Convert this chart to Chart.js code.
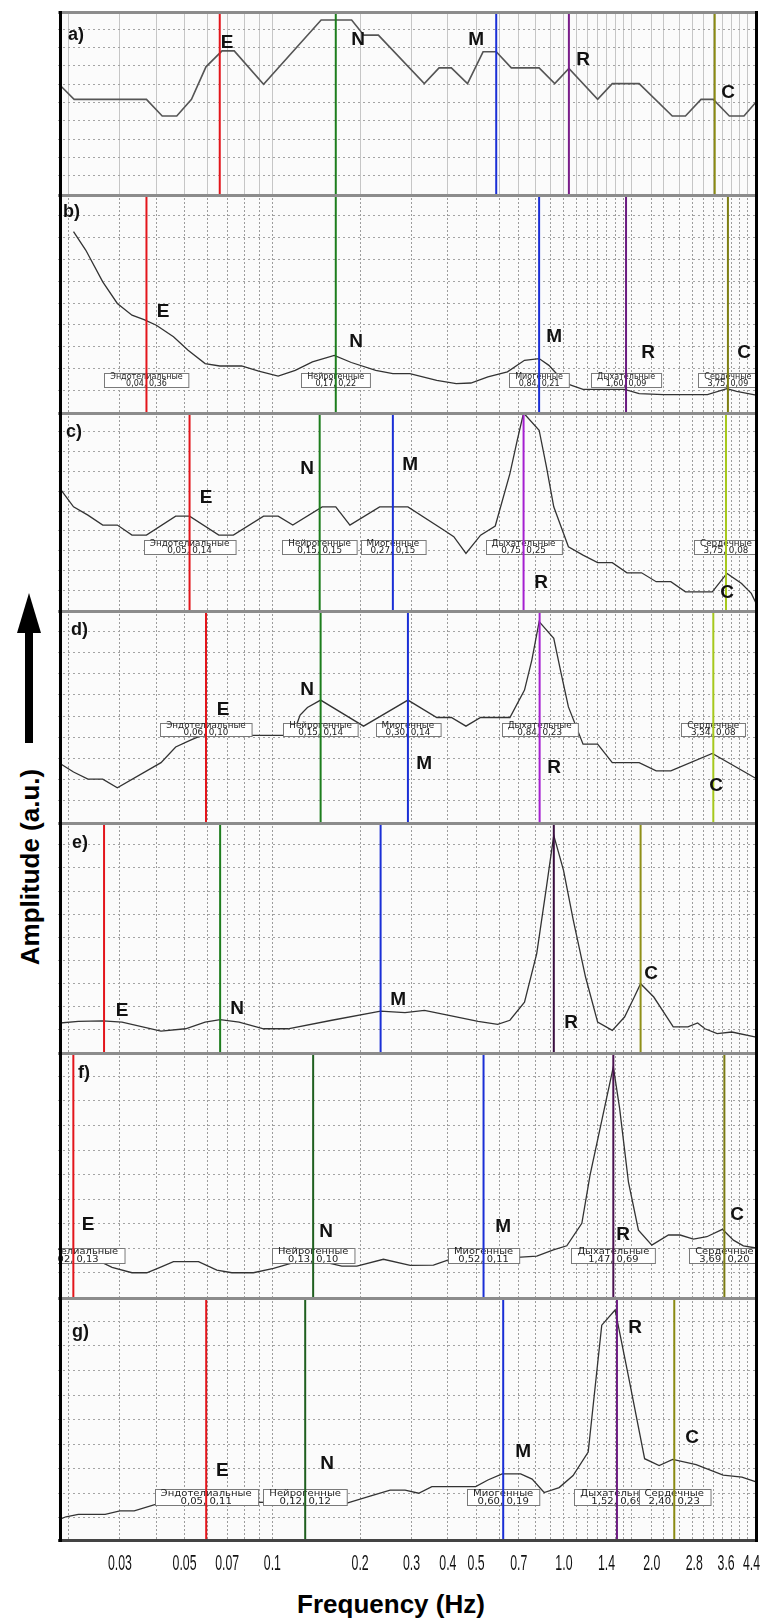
<!DOCTYPE html>
<html>
<head>
<meta charset="utf-8">
<script src="https://cdn.jsdelivr.net/npm/chart.js@4.4.1/dist/chart.umd.min.js"></script>
<style>
  body { margin: 0; background: #fff; overflow: hidden; }
  #wrap { position: relative; width: 760px; height: 1621px; font-family: "Liberation Sans", Arial, sans-serif; }
  #ytitle { position: absolute; left: 30px; top: 867px; transform: translate(-50%, -50%) rotate(-90deg);
            font-weight: bold; font-size: 26px; white-space: nowrap; color: #000; }
  #xtitle { position: absolute; left: 391px; top: 1604px; transform: translate(-50%, -50%);
            font-weight: bold; font-size: 26px; white-space: nowrap; color: #000; }
  #arrow { position: absolute; left: 17px; top: 593px; }
</style>
</head>
<body>
<div id="wrap">
  <svg id="arrow" width="24" height="150"><polygon points="12,0 0,40 24,40" fill="#000"/><rect x="8" y="38" width="8" height="112" fill="#000"/></svg>
  <div id="ytitle">Amplitude (a.u.)</div>
  <div id="xtitle">Frequency (Hz)</div>
</div>
<script>
// x axis: vertical grid lines and the labelled ticks under the last panel
const gridFreqs = [0.02, 0.03, 0.04, 0.05, 0.06, 0.07, 0.08, 0.09,
  0.1, 0.2, 0.3, 0.4, 0.5, 0.6, 0.7, 0.8, 0.9,
  1.0, 1.1, 1.2, 1.3, 1.4, 1.5, 1.6, 1.7, 2.0, 2.2, 2.5, 2.75, 3.0, 3.25, 3.5, 3.75, 4.0, 4.25];
const tickLabels = ['0.03', '0.05', '0.07', '0.1', '0.2', '0.3', '0.4', '0.5', '0.7', '1.0', '1.4', '2.0', '2.8', '3.6', '4.4'];
const tickValues = tickLabels.map(Number);

const letters = ['E', 'N', 'M', 'R', 'C'];
const boxNames = ['Эндотелиальные', 'Нейрогенные', 'Миогенные', 'Дыхательные', 'Сердечные'];

// a)
const aFreq = [0.0187, 0.0209, 0.0370, 0.0419, 0.0470, 0.0528, 0.0592, 0.0672, 0.0740, 0.0933, 0.147, 0.187, 0.206, 0.231,
  0.332, 0.373, 0.411, 0.467, 0.528, 0.586, 0.660, 0.822, 0.930, 1.04, 1.305, 1.465, 1.811, 2.353, 2.611, 2.953, 3.252, 3.693, 4.145, 4.56];
const aAmp = [5.94, 5.17, 5.17, 4.26, 4.26, 5.17, 6.95, 7.82, 7.82, 6.0, 9.51, 9.51, 8.68, 8.68,
  6.03, 6.89, 6.89, 6.03, 7.77, 7.77, 6.89, 6.89, 6.03, 6.86, 5.17, 6.03, 6.03, 4.26, 4.26, 5.17, 5.17, 4.26, 4.26, 5.03];
const aLines = [0.0660, 0.1650, 0.5858, 1.040, 3.289];

// b)
const bFreq = [0.0208, 0.0229, 0.0262, 0.0294, 0.0330, 0.0363, 0.0400, 0.0458, 0.0514, 0.0588, 0.0660, 0.0784, 0.0898,
  0.1047, 0.1198, 0.1372, 0.1631, 0.1866, 0.2262, 0.2589, 0.2962, 0.3662, 0.4272, 0.4795, 0.5486, 0.6400, 0.7324,
  0.8222, 0.888, 0.978, 1.056, 1.163, 1.614, 1.811, 2.195, 3.106, 3.622, 3.913, 4.56];
const bAmp = [8.27, 7.43, 5.97, 4.98, 4.44, 4.24, 3.98, 3.45, 2.83, 2.22, 2.11, 2.11, 1.87,
  1.65, 1.91, 2.30, 2.60, 2.27, 1.91, 1.76, 1.76, 1.45, 1.30, 1.33, 1.61, 1.84, 2.37,
  2.45, 2.14, 1.53, 1.23, 1.04, 1.04, 0.84, 0.80, 0.80, 1.07, 0.95, 0.77];
const bLines = [0.0370, 0.1650, 0.822, 1.633, 3.651];
const bBoxes = ['0,04, 0,36', '0,17, 0,22', '0,84, 0,21', '1,60, 0,09', '3,75, 0,09'];

// c)
const cFreq = [0.0187, 0.0208, 0.0233, 0.0262, 0.0294, 0.0330, 0.0370, 0.0466, 0.0520, 0.0655, 0.0735, 0.0933, 0.1047,
  0.1175, 0.1482, 0.1650, 0.1845, 0.2333, 0.2917, 0.3880, 0.419, 0.4613, 0.5178, 0.5813, 0.6527, 0.6915, 0.7270,
  0.8222, 0.871, 0.9228, 1.036, 1.163, 1.305, 1.465, 1.645, 1.846, 2.072, 2.326, 2.611, 3.227, 3.622, 4.067, 4.391, 4.56];
const cAmp = [6.13, 5.21, 4.79, 4.29, 4.29, 3.78, 3.78, 4.74, 4.74, 3.78, 3.78, 4.74, 4.74,
  4.29, 5.21, 5.21, 4.29, 5.21, 5.21, 4.03, 3.70, 2.86, 3.78, 4.24, 6.89, 8.57, 9.95,
  9.08, 7.23, 5.21, 3.19, 2.77, 2.39, 2.39, 1.88, 1.88, 1.43, 1.43, 0.92, 0.92, 1.85, 1.34, 0.84, 0.34];
const cLines = [0.0520, 0.1453, 0.2590, 0.727, 3.596];
const cBoxes = ['0,05, 0,14', '0,15, 0,15', '0,27, 0,15', '0,75, 0,25', '3,75, 0,08'];

// d)
const dFreq = [0.0187, 0.0208, 0.0233, 0.0262, 0.0294, 0.0415, 0.0466, 0.0524, 0.0611, 0.0831, 0.0933, 0.1175,
  0.1245, 0.1319, 0.1464, 0.2055, 0.2917, 0.3662, 0.4111, 0.4613, 0.5178, 0.6527, 0.7324, 0.776, 0.8222,
  0.9228, 0.978, 1.036, 1.163, 1.305, 1.465, 1.811, 2.072, 2.326, 3.227, 4.56];
const dAmp = [2.76, 2.36, 2.02, 2.02, 1.61, 2.80, 3.54, 3.86, 4.25, 4.09, 4.09, 4.09,
  5.04, 5.40, 5.75, 4.52, 5.75, 4.93, 4.93, 4.52, 4.93, 4.93, 6.22, 7.64, 9.45,
  8.66, 7.01, 5.43, 3.67, 3.67, 2.80, 2.80, 2.41, 2.41, 3.23, 2.05];
const dLines = [0.0592, 0.1464, 0.2917, 0.8253, 3.253];
const dBoxes = ['0,06, 0,10', '0,15, 0,14', '0,30, 0,14', '0,84, 0,23', '3,34, 0,08'];

// e)
const eFreq = [0.0187, 0.0216, 0.0262, 0.0305, 0.0415, 0.0504, 0.0588, 0.0662, 0.0769, 0.0933, 0.1131, 0.160, 0.2351,
  0.2850, 0.3324, 0.4032, 0.5078, 0.5926, 0.6527, 0.7324, 0.8066, 0.871, 0.9228, 0.9968, 1.077, 1.186, 1.305,
  1.465, 1.614, 1.743, 1.832, 2.033, 2.371, 2.662, 2.874, 3.046, 3.354, 3.765, 4.56];
const eAmp = [1.26, 1.33, 1.35, 1.30, 0.91, 1.01, 1.30, 1.41, 1.30, 1.01, 1.01, 1.38, 1.78,
  1.71, 1.81, 1.59, 1.33, 1.20, 1.38, 2.17, 4.28, 7.17, 9.42, 7.90, 5.72, 3.26, 1.30,
  0.94, 1.52, 2.39, 2.97, 2.39, 1.09, 1.09, 1.26, 1.01, 0.80, 0.87, 0.65];
const eLines = [0.02647, 0.0662, 0.2351, 0.9232, 1.832];

// f)
const fFreq = [0.0187, 0.0257, 0.0282, 0.0330, 0.0371, 0.0412, 0.0458, 0.0558, 0.0645, 0.0726, 0.0861, 0.1009, 0.1213,
  0.1537, 0.1731, 0.1949, 0.2404, 0.297, 0.3568, 0.4017, 0.690, 0.807, 0.920, 1.023, 1.152, 1.229, 1.477,
  1.552, 1.664, 1.801, 2.002, 2.283, 2.503, 2.781, 3.090, 3.496, 3.813, 4.126, 4.56];
const fAmp = [1.59, 1.44, 1.21, 0.99, 0.99, 1.21, 1.44, 1.44, 1.10, 0.99, 0.99, 1.17, 1.44,
  1.40, 1.26, 1.26, 1.54, 1.29, 1.30, 1.51, 1.62, 1.67, 1.92, 2.09, 3.01, 4.97, 9.39,
  7.71, 4.70, 2.73, 2.12, 2.53, 2.53, 2.36, 2.46, 2.76, 2.32, 2.09, 2.00];
const fLines = [0.02077, 0.138, 0.53, 1.477, 3.55];
const fBoxes = ['0,02, 0,13', '0,13, 0,10', '0,52, 0,11', '1,47, 0,69', '3,69, 0,20'];

// g)
const gFreq = [0.0187, 0.0196, 0.0216, 0.0267, 0.0300, 0.0336, 0.0400, 0.0839, 0.1791, 0.2177, 0.2535, 0.2853,
  0.3175, 0.3524, 0.4982, 0.5486, 0.6138, 0.7105, 0.7779, 0.8553, 0.9627, 1.075, 1.211, 1.348, 1.498,
  1.668, 1.891, 2.121, 2.361, 2.840, 3.516, 4.077, 4.56];
const gAmp = [0.93, 1.03, 1.13, 1.13, 1.27, 1.27, 1.55, 1.63, 1.58, 1.88, 2.12, 2.12,
  1.99, 2.26, 2.26, 2.53, 2.78, 2.78, 2.57, 2.02, 2.22, 2.71, 3.67, 8.85, 9.47,
  6.71, 3.40, 3.12, 3.37, 3.16, 2.73, 2.65, 2.45];
const gLines = [0.0593, 0.1296, 0.619, 1.52, 2.39];
const gBoxes = ['0,05, 0,11', '0,12, 0,12', '0,60, 0,19', '1,52, 0,69', '2,40, 0,23'];

const RED = '#e3151b', GREEN = '#1d7d1d', BLUE = '#1a2fd6';

const panels = [
  { tag: 'a)', top: 11, height: 183, freq: aFreq, amp: aAmp, lines: aLines, solid: true,
    colors: [RED, GREEN, BLUE, '#7a1d8a', '#8a8a12'], tagPos: [10, 24],
    marks: [[0.0700, 8.25], [0.1968, 8.41], [0.5000, 8.41], [1.164, 7.32], [3.657, 5.51]] },
  { tag: 'b)', top: 194, height: 218, freq: bFreq, amp: bAmp, lines: bLines,
    colors: [RED, GREEN, BLUE, '#6a1a80', '#7d7d10'], tagPos: [5, 18],
    marks: [[0.0422, 4.58], [0.1938, 3.20], [0.9256, 3.43], [1.944, 2.74], [4.148, 2.70]],
    boxes: bBoxes, boxLevel: 1.48, boxFont: 8, boxH: 14, boxStretch: 1.0 },
  { tag: 'c)', top: 412, height: 198, freq: cFreq, amp: cAmp, lines: cLines,
    colors: [RED, GREEN, BLUE, '#a51fd0', '#a6c81c'], tagPos: [8, 20],
    marks: [[0.0593, 5.65], [0.1316, 7.11], [0.2969, 7.31], [0.835, 1.36], [3.628, 0.86]],
    boxes: cBoxes, boxLevel: 3.18, boxFont: 8, boxH: 14, boxStretch: 1.1 },
  { tag: 'd)', top: 610, height: 212, freq: dFreq, amp: dAmp, lines: dLines,
    colors: [RED, GREEN, BLUE, '#a51fd0', '#a6c81c'], tagPos: [13, 20],
    marks: [[0.0678, 5.28], [0.1316, 6.22], [0.3316, 2.77], [0.9256, 2.54], [3.326, 1.73]],
    boxes: dBoxes, boxLevel: 4.38, boxFont: 8, boxH: 13, boxStretch: 1.1 },
  { tag: 'e)', top: 822, height: 230, freq: eFreq, amp: eAmp, lines: eLines,
    colors: [RED, GREEN, BLUE, '#3a0f40', '#8f8f18'], tagPos: [14, 21],
    marks: [[0.03053, 1.81], [0.0757, 1.90], [0.2701, 2.25], [1.0585, 1.25], [1.991, 3.42]] },
  { tag: 'f)', top: 1052, height: 245, freq: fFreq, amp: fAmp, lines: fLines,
    colors: [RED, '#1f5f1f', BLUE, '#4a1050', '#7a7a12'], tagPos: [20, 21],
    marks: [[0.02335, 2.94], [0.1529, 2.65], [0.6187, 2.85], [1.596, 2.53], [3.926, 3.34]],
    boxes: fBoxes, boxLevel: 1.71, boxFont: 9, boxH: 15, boxStretch: 1.1 },
  { tag: 'g)', top: 1297, height: 245, freq: gFreq, amp: gAmp, lines: gLines,
    colors: [RED, '#1f5f1f', BLUE, '#6a1a80', '#8a8a12'], tagPos: [14, 35],
    marks: [[0.0673, 2.90], [0.1541, 3.18], [0.7247, 3.67], [1.754, 8.73], [2.751, 4.24]],
    boxes: gBoxes, boxLevel: 1.84, boxFont: 9, boxH: 16, boxStretch: 1.12 }
];

const gridSet = new Set(gridFreqs);
const allTicks = [...new Set([...gridFreqs, ...tickValues])].sort((a, b) => a - b);

function drawBoxes(chart, p) {
  if (!p.boxes) return;
  const { ctx, chartArea: ca, scales: { x, y } } = chart;
  ctx.save();
  ctx.beginPath();
  ctx.rect(ca.left, ca.top, ca.width, ca.height);
  ctx.clip();
  ctx.font = p.boxFont + 'px "DejaVu Sans"';
  p.lines.forEach((f, i) => {
    const cx = x.getPixelForValue(f);
    const cy = y.getPixelForValue(p.boxLevel);
    const t1 = boxNames[i], t2 = p.boxes[i];
    const tw = Math.max(ctx.measureText(t1).width, ctx.measureText(t2).width) * p.boxStretch;
    const w = tw + 12, h = p.boxH;
    const bx = Math.round(cx - w / 2) + 0.5, by = Math.round(cy - h / 2) + 0.5;
    ctx.fillStyle = '#fff';
    ctx.fillRect(bx, by, w, h);
    ctx.strokeStyle = '#7a7a7a';
    ctx.lineWidth = 1;
    ctx.strokeRect(bx, by, w, h);
    ctx.fillStyle = '#222';
    ctx.textAlign = 'center';
    ctx.textBaseline = 'middle';
    [t1, t2].forEach((t, j) => {
      ctx.save();
      ctx.translate(cx, cy + (j ? h / 4 : -h / 4) + 0.5);
      ctx.scale(p.boxStretch, 1);
      ctx.fillText(t, 0, 0);
      ctx.restore();
    });
  });
  ctx.restore();
}

// condensed tick labels under the last panel, placed by the x scale
function drawTickLabels(chart) {
  const { ctx, chartArea: ca, scales: { x } } = chart;
  ctx.save();
  ctx.fillStyle = '#111';
  ctx.font = '22px "Liberation Sans", Arial';
  ctx.textAlign = 'center';
  ctx.textBaseline = 'middle';
  tickValues.forEach((v, i) => {
    ctx.save();
    ctx.translate(x.getPixelForValue(v), ca.bottom + 22);
    ctx.scale(0.56, 1);
    ctx.fillText(tickLabels[i], 0, 0);
    ctx.restore();
  });
  ctx.restore();
}

const panelDecor = {
  id: 'panelDecor',
  beforeDraw(chart, args, opts) {
    const { ctx, chartArea: ca } = chart;
    ctx.save();
    ctx.fillStyle = '#fbfbfb';
    ctx.fillRect(ca.left, ca.top, ca.width, ca.height);
    ctx.restore();
  },
  afterDatasetDraw(chart, args, opts) {
    if (args.index === 0) drawBoxes(chart, opts.panel);
  },
  afterDatasetsDraw(chart, args, opts) {
    const p = opts.panel;
    const { ctx, chartArea: ca, scales: { x, y } } = chart;
    ctx.save();
    ctx.fillStyle = '#111';
    ctx.font = 'bold 19px "Liberation Sans", Arial';
    ctx.textAlign = 'center';
    ctx.textBaseline = 'middle';
    p.marks.forEach((m, i) => ctx.fillText(letters[i], x.getPixelForValue(m[0]), y.getPixelForValue(m[1])));
    ctx.font = 'bold 18px "Liberation Sans", Arial';
    ctx.textAlign = 'left';
    ctx.fillText(p.tag, ca.left + p.tagPos[0], ca.top + p.tagPos[1]);
    ctx.restore();
  },
  afterDraw(chart, args, opts) {
    const { ctx, chartArea: ca } = chart;
    ctx.save();
    ctx.lineWidth = 3;
    ctx.strokeStyle = '#8c8c8c';
    ctx.beginPath();
    ctx.moveTo(ca.left, ca.top + 1.5);
    ctx.lineTo(ca.right, ca.top + 1.5);
    ctx.stroke();
    if (opts.last) {
      ctx.strokeStyle = '#444';
      ctx.beginPath();
      ctx.moveTo(ca.left, ca.bottom - 1.5);
      ctx.lineTo(ca.right, ca.bottom - 1.5);
      ctx.stroke();
    }
    ctx.strokeStyle = '#000';
    ctx.beginPath();
    ctx.moveTo(ca.left + 2.5, ca.top);
    ctx.lineTo(ca.left + 2.5, ca.bottom);
    ctx.moveTo(ca.right - 1.5, ca.top);
    ctx.lineTo(ca.right - 1.5, ca.bottom);
    ctx.stroke();
    ctx.restore();
    if (opts.last) drawTickLabels(chart);
  }
};

const wrap = document.getElementById('wrap');

panels.forEach((p, k) => {
  const last = k === panels.length - 1;
  const cv = document.createElement('canvas');
  cv.width = last ? 702 : 700;
  cv.height = last ? p.height + 36 : p.height;
  cv.style.position = 'absolute';
  cv.style.left = '58px';
  cv.style.top = p.top + 'px';
  wrap.appendChild(cv);

  const datasets = [{
    data: p.freq.map((f, i) => ({ x: f, y: p.amp[i] })),
    borderColor: p.solid ? '#555' : '#333',
    borderWidth: p.solid ? 1.6 : 1.3,
    pointRadius: 0,
    tension: 0,
    order: 1
  }];
  p.lines.forEach((f, i) => {
    datasets.push({
      data: [{ x: f, y: 0 }, { x: f, y: 10 }],
      borderColor: p.colors[i],
      borderWidth: 2,
      pointRadius: 0,
      order: 0
    });
  });

  new Chart(cv, {
    type: 'line',
    data: { datasets },
    options: {
      responsive: false,
      animation: false,
      events: [],
      layout: { padding: { right: last ? 2 : 0, bottom: last ? 36 : 0 } },
      plugins: {
        legend: { display: false },
        tooltip: { enabled: false },
        panelDecor: { panel: p, last }
      },
      scales: {
        x: {
          type: 'logarithmic',
          min: 0.0184,
          max: 4.63,
          afterBuildTicks: s => { s.ticks = allTicks.map(v => ({ value: v })); },
          ticks: { display: false },
          grid: {
            drawTicks: false,
            lineWidth: 1,
            color: c => gridSet.has(c.tick && c.tick.value) ? (p.solid ? '#c6c6c6' : '#9c9c9c') : 'rgba(0,0,0,0)'
          },
          border: { display: false, dash: p.solid ? [] : [2, 2] }
        },
        y: {
          min: 0,
          max: 10,
          ticks: { display: false, stepSize: 1 },
          grid: {
            drawTicks: false,
            color: c => (c.tick && (c.tick.value === 0 || c.tick.value === 10)) ? 'rgba(0,0,0,0)' : '#a4a4a4'
          },
          border: { display: false, dash: [2, 3] }
        }
      }
    },
    plugins: [panelDecor]
  });
});
</script>
</body>
</html>
